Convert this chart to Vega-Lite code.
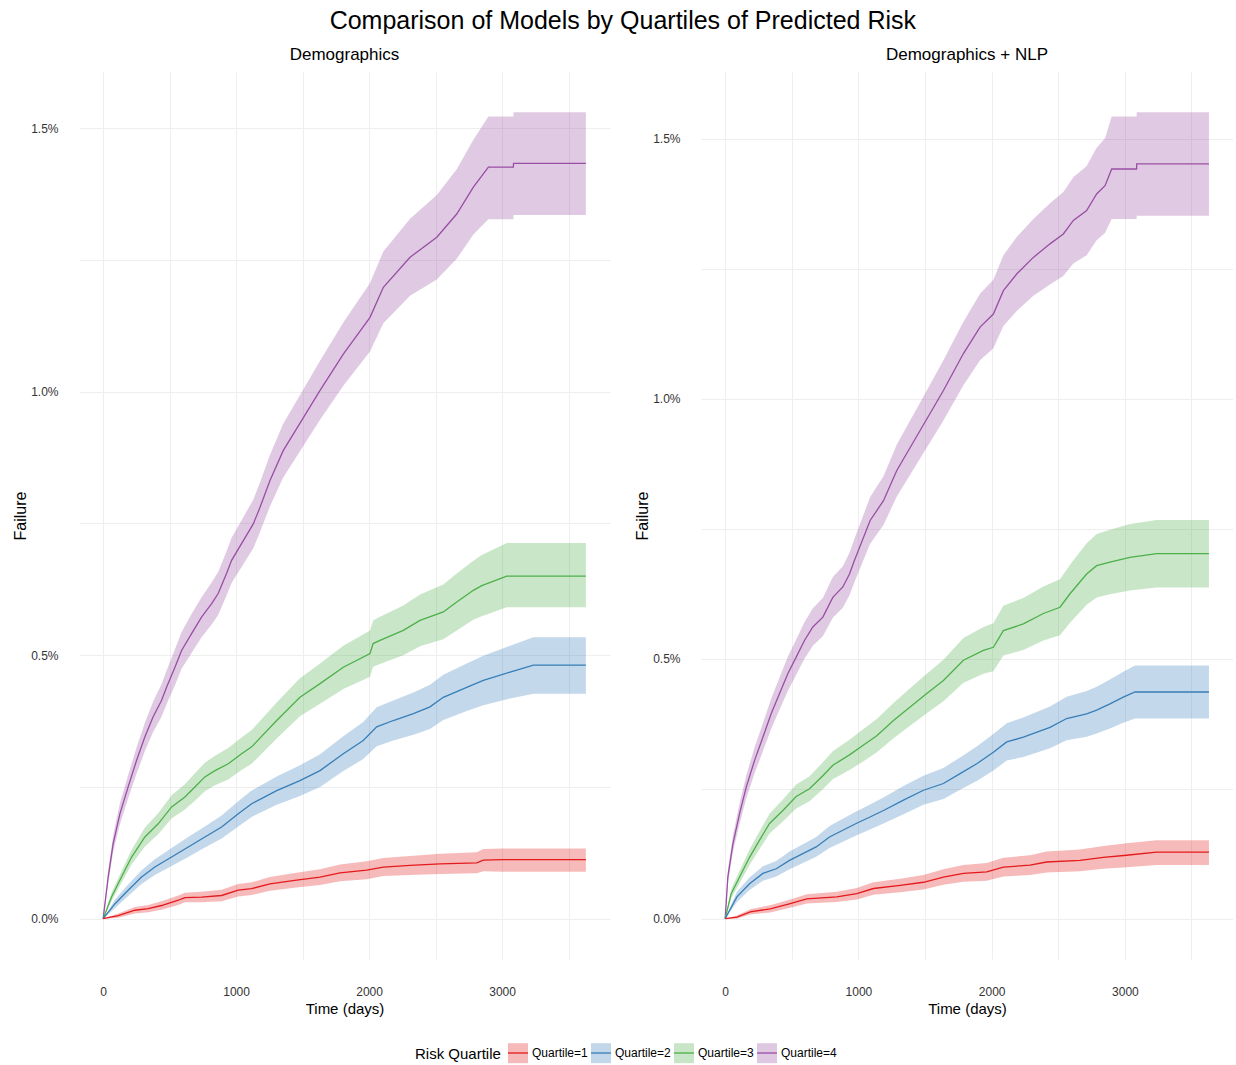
{
  "$schema": "https://vega.github.io/schema/vega-lite/v6.json",
  "background": "white",
  "padding": {"left": 12, "right": 0, "top": 9, "bottom": 5},
  "title": {"text": "Comparison of Models by Quartiles of Predicted Risk", "fontSize": 25, "font": "Liberation Sans", "fontWeight": "normal", "anchor": "middle", "offset": 12, "color": "#000000"},
  "config": {
    "font": "Liberation Sans",
    "view": {"stroke": null},
    "concat": {"spacing": 24},
    "axis": {"grid": true, "gridColor": "#EEEEEE", "gridWidth": 1, "domain": false, "ticks": false, "labelFontSize": 12, "labelColor": "#333333", "titleFontSize": 15, "titleFontWeight": "normal", "titleColor": "#000000", "labelFont": "Liberation Sans", "titleFont": "Liberation Sans"},
    "axisY": {"titleFontSize": 16},
    "title": {"fontSize": 17, "fontWeight": "normal", "color": "#000000", "font": "Liberation Sans"}
  },
  "datasets": {
    "demo": [
      {"quartile": "Quartile=4", "day": 0, "est": 0, "lo": 0, "hi": 0},
      {"quartile": "Quartile=4", "day": 38, "est": 0.079, "lo": 0.067, "hi": 0.091},
      {"quartile": "Quartile=4", "day": 75, "est": 0.142, "lo": 0.126, "hi": 0.158},
      {"quartile": "Quartile=4", "day": 126, "est": 0.199, "lo": 0.179, "hi": 0.219},
      {"quartile": "Quartile=4", "day": 188, "est": 0.25, "lo": 0.228, "hi": 0.272},
      {"quartile": "Quartile=4", "day": 251, "est": 0.3, "lo": 0.275, "hi": 0.325},
      {"quartile": "Quartile=4", "day": 314, "est": 0.345, "lo": 0.318, "hi": 0.372},
      {"quartile": "Quartile=4", "day": 376, "est": 0.383, "lo": 0.354, "hi": 0.412},
      {"quartile": "Quartile=4", "day": 439, "est": 0.414, "lo": 0.383, "hi": 0.445},
      {"quartile": "Quartile=4", "day": 477, "est": 0.439, "lo": 0.407, "hi": 0.471},
      {"quartile": "Quartile=4", "day": 540, "est": 0.477, "lo": 0.443, "hi": 0.511},
      {"quartile": "Quartile=4", "day": 590, "est": 0.509, "lo": 0.474, "hi": 0.544},
      {"quartile": "Quartile=4", "day": 665, "est": 0.541, "lo": 0.504, "hi": 0.578},
      {"quartile": "Quartile=4", "day": 740, "est": 0.572, "lo": 0.534, "hi": 0.61},
      {"quartile": "Quartile=4", "day": 816, "est": 0.598, "lo": 0.558, "hi": 0.638},
      {"quartile": "Quartile=4", "day": 865, "est": 0.617, "lo": 0.576, "hi": 0.658},
      {"quartile": "Quartile=4", "day": 928, "est": 0.655, "lo": 0.613, "hi": 0.697},
      {"quartile": "Quartile=4", "day": 966, "est": 0.68, "lo": 0.637, "hi": 0.723},
      {"quartile": "Quartile=4", "day": 1129, "est": 0.749, "lo": 0.703, "hi": 0.795},
      {"quartile": "Quartile=4", "day": 1179, "est": 0.78, "lo": 0.733, "hi": 0.827},
      {"quartile": "Quartile=4", "day": 1254, "est": 0.831, "lo": 0.782, "hi": 0.88},
      {"quartile": "Quartile=4", "day": 1354, "est": 0.888, "lo": 0.837, "hi": 0.939},
      {"quartile": "Quartile=4", "day": 1630, "est": 1.002, "lo": 0.946, "hi": 1.058},
      {"quartile": "Quartile=4", "day": 1806, "est": 1.071, "lo": 1.011, "hi": 1.131},
      {"quartile": "Quartile=4", "day": 2007, "est": 1.141, "lo": 1.076, "hi": 1.206},
      {"quartile": "Quartile=4", "day": 2107, "est": 1.198, "lo": 1.13, "hi": 1.266},
      {"quartile": "Quartile=4", "day": 2308, "est": 1.255, "lo": 1.182, "hi": 1.328},
      {"quartile": "Quartile=4", "day": 2509, "est": 1.293, "lo": 1.213, "hi": 1.373},
      {"quartile": "Quartile=4", "day": 2659, "est": 1.337, "lo": 1.252, "hi": 1.422},
      {"quartile": "Quartile=4", "day": 2784, "est": 1.388, "lo": 1.298, "hi": 1.478},
      {"quartile": "Quartile=4", "day": 2897, "est": 1.426, "lo": 1.327, "hi": 1.522},
      {"quartile": "Quartile=4", "day": 3085, "est": 1.426, "lo": 1.327, "hi": 1.522},
      {"quartile": "Quartile=4", "day": 3086, "est": 1.433, "lo": 1.335, "hi": 1.53},
      {"quartile": "Quartile=4", "day": 3630, "est": 1.433, "lo": 1.335, "hi": 1.53},

      {"quartile": "Quartile=3", "day": 0, "est": 0, "lo": 0, "hi": 0},
      {"quartile": "Quartile=3", "day": 63, "est": 0.041, "lo": 0.033, "hi": 0.049},
      {"quartile": "Quartile=3", "day": 138, "est": 0.079, "lo": 0.068, "hi": 0.09},
      {"quartile": "Quartile=3", "day": 214, "est": 0.117, "lo": 0.103, "hi": 0.131},
      {"quartile": "Quartile=3", "day": 314, "est": 0.155, "lo": 0.137, "hi": 0.173},
      {"quartile": "Quartile=3", "day": 414, "est": 0.18, "lo": 0.16, "hi": 0.2},
      {"quartile": "Quartile=3", "day": 515, "est": 0.212, "lo": 0.19, "hi": 0.234},
      {"quartile": "Quartile=3", "day": 615, "est": 0.231, "lo": 0.207, "hi": 0.255},
      {"quartile": "Quartile=3", "day": 690, "est": 0.25, "lo": 0.224, "hi": 0.276},
      {"quartile": "Quartile=3", "day": 765, "est": 0.269, "lo": 0.242, "hi": 0.296},
      {"quartile": "Quartile=3", "day": 841, "est": 0.281, "lo": 0.253, "hi": 0.309},
      {"quartile": "Quartile=3", "day": 941, "est": 0.294, "lo": 0.264, "hi": 0.324},
      {"quartile": "Quartile=3", "day": 1041, "est": 0.313, "lo": 0.282, "hi": 0.344},
      {"quartile": "Quartile=3", "day": 1117, "est": 0.326, "lo": 0.294, "hi": 0.358},
      {"quartile": "Quartile=3", "day": 1305, "est": 0.376, "lo": 0.342, "hi": 0.41},
      {"quartile": "Quartile=3", "day": 1480, "est": 0.42, "lo": 0.384, "hi": 0.456},
      {"quartile": "Quartile=3", "day": 1631, "est": 0.446, "lo": 0.408, "hi": 0.484},
      {"quartile": "Quartile=3", "day": 1806, "est": 0.477, "lo": 0.436, "hi": 0.518},
      {"quartile": "Quartile=3", "day": 2007, "est": 0.503, "lo": 0.459, "hi": 0.547},
      {"quartile": "Quartile=3", "day": 2030, "est": 0.522, "lo": 0.478, "hi": 0.566},
      {"quartile": "Quartile=3", "day": 2082, "est": 0.528, "lo": 0.483, "hi": 0.573},
      {"quartile": "Quartile=3", "day": 2257, "est": 0.547, "lo": 0.5, "hi": 0.594},
      {"quartile": "Quartile=3", "day": 2383, "est": 0.566, "lo": 0.517, "hi": 0.615},
      {"quartile": "Quartile=3", "day": 2558, "est": 0.582, "lo": 0.53, "hi": 0.634},
      {"quartile": "Quartile=3", "day": 2659, "est": 0.601, "lo": 0.547, "hi": 0.655},
      {"quartile": "Quartile=3", "day": 2784, "est": 0.623, "lo": 0.567, "hi": 0.679},
      {"quartile": "Quartile=3", "day": 2847, "est": 0.632, "lo": 0.574, "hi": 0.69},
      {"quartile": "Quartile=3", "day": 3035, "est": 0.65, "lo": 0.591, "hi": 0.713},
      {"quartile": "Quartile=3", "day": 3630, "est": 0.65, "lo": 0.591, "hi": 0.713},

      {"quartile": "Quartile=2", "day": 0, "est": 0, "lo": 0, "hi": 0},
      {"quartile": "Quartile=2", "day": 88, "est": 0.028, "lo": 0.02, "hi": 0.036},
      {"quartile": "Quartile=2", "day": 188, "est": 0.054, "lo": 0.043, "hi": 0.065},
      {"quartile": "Quartile=2", "day": 289, "est": 0.079, "lo": 0.066, "hi": 0.092},
      {"quartile": "Quartile=2", "day": 389, "est": 0.098, "lo": 0.083, "hi": 0.113},
      {"quartile": "Quartile=2", "day": 515, "est": 0.117, "lo": 0.1, "hi": 0.134},
      {"quartile": "Quartile=2", "day": 640, "est": 0.136, "lo": 0.117, "hi": 0.155},
      {"quartile": "Quartile=2", "day": 765, "est": 0.155, "lo": 0.135, "hi": 0.175},
      {"quartile": "Quartile=2", "day": 891, "est": 0.174, "lo": 0.152, "hi": 0.196},
      {"quartile": "Quartile=2", "day": 1016, "est": 0.199, "lo": 0.175, "hi": 0.223},
      {"quartile": "Quartile=2", "day": 1117, "est": 0.218, "lo": 0.193, "hi": 0.243},
      {"quartile": "Quartile=2", "day": 1305, "est": 0.243, "lo": 0.216, "hi": 0.27},
      {"quartile": "Quartile=2", "day": 1480, "est": 0.262, "lo": 0.233, "hi": 0.291},
      {"quartile": "Quartile=2", "day": 1631, "est": 0.281, "lo": 0.25, "hi": 0.312},
      {"quartile": "Quartile=2", "day": 1806, "est": 0.313, "lo": 0.28, "hi": 0.346},
      {"quartile": "Quartile=2", "day": 1956, "est": 0.338, "lo": 0.303, "hi": 0.373},
      {"quartile": "Quartile=2", "day": 2057, "est": 0.364, "lo": 0.327, "hi": 0.401},
      {"quartile": "Quartile=2", "day": 2182, "est": 0.376, "lo": 0.338, "hi": 0.414},
      {"quartile": "Quartile=2", "day": 2333, "est": 0.389, "lo": 0.349, "hi": 0.429},
      {"quartile": "Quartile=2", "day": 2458, "est": 0.402, "lo": 0.36, "hi": 0.444},
      {"quartile": "Quartile=2", "day": 2558, "est": 0.42, "lo": 0.377, "hi": 0.463},
      {"quartile": "Quartile=2", "day": 2734, "est": 0.439, "lo": 0.394, "hi": 0.484},
      {"quartile": "Quartile=2", "day": 2859, "est": 0.452, "lo": 0.405, "hi": 0.499},
      {"quartile": "Quartile=2", "day": 3060, "est": 0.468, "lo": 0.418, "hi": 0.518},
      {"quartile": "Quartile=2", "day": 3236, "est": 0.481, "lo": 0.427, "hi": 0.534},
      {"quartile": "Quartile=2", "day": 3630, "est": 0.481, "lo": 0.427, "hi": 0.534},

      {"quartile": "Quartile=1", "day": 0, "est": 0, "lo": 0, "hi": 0},
      {"quartile": "Quartile=1", "day": 113, "est": 0.006, "lo": 0.002, "hi": 0.01},
      {"quartile": "Quartile=1", "day": 239, "est": 0.016, "lo": 0.01, "hi": 0.022},
      {"quartile": "Quartile=1", "day": 339, "est": 0.019, "lo": 0.012, "hi": 0.026},
      {"quartile": "Quartile=1", "day": 439, "est": 0.025, "lo": 0.017, "hi": 0.033},
      {"quartile": "Quartile=1", "day": 565, "est": 0.035, "lo": 0.026, "hi": 0.044},
      {"quartile": "Quartile=1", "day": 615, "est": 0.04, "lo": 0.031, "hi": 0.049},
      {"quartile": "Quartile=1", "day": 740, "est": 0.041, "lo": 0.031, "hi": 0.051},
      {"quartile": "Quartile=1", "day": 891, "est": 0.044, "lo": 0.033, "hi": 0.055},
      {"quartile": "Quartile=1", "day": 1016, "est": 0.054, "lo": 0.042, "hi": 0.066},
      {"quartile": "Quartile=1", "day": 1117, "est": 0.057, "lo": 0.045, "hi": 0.069},
      {"quartile": "Quartile=1", "day": 1254, "est": 0.066, "lo": 0.053, "hi": 0.079},
      {"quartile": "Quartile=1", "day": 1455, "est": 0.073, "lo": 0.059, "hi": 0.087},
      {"quartile": "Quartile=1", "day": 1631, "est": 0.079, "lo": 0.064, "hi": 0.094},
      {"quartile": "Quartile=1", "day": 1781, "est": 0.087, "lo": 0.071, "hi": 0.103},
      {"quartile": "Quartile=1", "day": 1982, "est": 0.092, "lo": 0.075, "hi": 0.109},
      {"quartile": "Quartile=1", "day": 2107, "est": 0.098, "lo": 0.081, "hi": 0.115},
      {"quartile": "Quartile=1", "day": 2308, "est": 0.101, "lo": 0.083, "hi": 0.119},
      {"quartile": "Quartile=1", "day": 2534, "est": 0.104, "lo": 0.085, "hi": 0.123},
      {"quartile": "Quartile=1", "day": 2810, "est": 0.106, "lo": 0.086, "hi": 0.126},
      {"quartile": "Quartile=1", "day": 2859, "est": 0.111, "lo": 0.09, "hi": 0.132},
      {"quartile": "Quartile=1", "day": 3010, "est": 0.112, "lo": 0.089, "hi": 0.133},
      {"quartile": "Quartile=1", "day": 3630, "est": 0.112, "lo": 0.089, "hi": 0.133}
    ],
    "nlp": [
      {"quartile": "Quartile=4", "day": 0, "est": 0, "lo": 0, "hi": 0},
      {"quartile": "Quartile=4", "day": 20, "est": 0.08, "lo": 0.068, "hi": 0.092},
      {"quartile": "Quartile=4", "day": 58, "est": 0.144, "lo": 0.128, "hi": 0.16},
      {"quartile": "Quartile=4", "day": 108, "est": 0.202, "lo": 0.182, "hi": 0.222},
      {"quartile": "Quartile=4", "day": 158, "est": 0.253, "lo": 0.231, "hi": 0.275},
      {"quartile": "Quartile=4", "day": 220, "est": 0.304, "lo": 0.279, "hi": 0.329},
      {"quartile": "Quartile=4", "day": 283, "est": 0.349, "lo": 0.322, "hi": 0.376},
      {"quartile": "Quartile=4", "day": 345, "est": 0.394, "lo": 0.365, "hi": 0.423},
      {"quartile": "Quartile=4", "day": 408, "est": 0.433, "lo": 0.402, "hi": 0.464},
      {"quartile": "Quartile=4", "day": 470, "est": 0.471, "lo": 0.438, "hi": 0.504},
      {"quartile": "Quartile=4", "day": 533, "est": 0.503, "lo": 0.469, "hi": 0.537},
      {"quartile": "Quartile=4", "day": 595, "est": 0.535, "lo": 0.5, "hi": 0.57},
      {"quartile": "Quartile=4", "day": 658, "est": 0.561, "lo": 0.525, "hi": 0.597},
      {"quartile": "Quartile=4", "day": 733, "est": 0.58, "lo": 0.543, "hi": 0.617},
      {"quartile": "Quartile=4", "day": 808, "est": 0.618, "lo": 0.579, "hi": 0.657},
      {"quartile": "Quartile=4", "day": 883, "est": 0.638, "lo": 0.598, "hi": 0.678},
      {"quartile": "Quartile=4", "day": 933, "est": 0.663, "lo": 0.622, "hi": 0.704},
      {"quartile": "Quartile=4", "day": 970, "est": 0.689, "lo": 0.647, "hi": 0.731},
      {"quartile": "Quartile=4", "day": 1088, "est": 0.766, "lo": 0.721, "hi": 0.811},
      {"quartile": "Quartile=4", "day": 1188, "est": 0.804, "lo": 0.757, "hi": 0.851},
      {"quartile": "Quartile=4", "day": 1288, "est": 0.862, "lo": 0.812, "hi": 0.912},
      {"quartile": "Quartile=4", "day": 1463, "est": 0.939, "lo": 0.885, "hi": 0.993},
      {"quartile": "Quartile=4", "day": 1638, "est": 1.016, "lo": 0.958, "hi": 1.074},
      {"quartile": "Quartile=4", "day": 1788, "est": 1.087, "lo": 1.026, "hi": 1.148},
      {"quartile": "Quartile=4", "day": 1913, "est": 1.138, "lo": 1.074, "hi": 1.202},
      {"quartile": "Quartile=4", "day": 2013, "est": 1.163, "lo": 1.097, "hi": 1.229},
      {"quartile": "Quartile=4", "day": 2088, "est": 1.208, "lo": 1.14, "hi": 1.276},
      {"quartile": "Quartile=4", "day": 2188, "est": 1.24, "lo": 1.169, "hi": 1.311},
      {"quartile": "Quartile=4", "day": 2313, "est": 1.272, "lo": 1.198, "hi": 1.346},
      {"quartile": "Quartile=4", "day": 2438, "est": 1.298, "lo": 1.22, "hi": 1.376},
      {"quartile": "Quartile=4", "day": 2538, "est": 1.317, "lo": 1.236, "hi": 1.398},
      {"quartile": "Quartile=4", "day": 2613, "est": 1.343, "lo": 1.26, "hi": 1.426},
      {"quartile": "Quartile=4", "day": 2713, "est": 1.362, "lo": 1.276, "hi": 1.448},
      {"quartile": "Quartile=4", "day": 2788, "est": 1.394, "lo": 1.305, "hi": 1.483},
      {"quartile": "Quartile=4", "day": 2851, "est": 1.41, "lo": 1.319, "hi": 1.501},
      {"quartile": "Quartile=4", "day": 2901, "est": 1.442, "lo": 1.346, "hi": 1.543},
      {"quartile": "Quartile=4", "day": 3088, "est": 1.442, "lo": 1.346, "hi": 1.543},
      {"quartile": "Quartile=4", "day": 3089, "est": 1.452, "lo": 1.352, "hi": 1.551},
      {"quartile": "Quartile=4", "day": 3631, "est": 1.452, "lo": 1.352, "hi": 1.551},

      {"quartile": "Quartile=3", "day": 0, "est": 0, "lo": 0, "hi": 0},
      {"quartile": "Quartile=3", "day": 45, "est": 0.048, "lo": 0.039, "hi": 0.057},
      {"quartile": "Quartile=3", "day": 108, "est": 0.08, "lo": 0.068, "hi": 0.092},
      {"quartile": "Quartile=3", "day": 183, "est": 0.118, "lo": 0.103, "hi": 0.133},
      {"quartile": "Quartile=3", "day": 258, "est": 0.151, "lo": 0.134, "hi": 0.168},
      {"quartile": "Quartile=3", "day": 333, "est": 0.183, "lo": 0.164, "hi": 0.202},
      {"quartile": "Quartile=3", "day": 433, "est": 0.208, "lo": 0.187, "hi": 0.229},
      {"quartile": "Quartile=3", "day": 533, "est": 0.235, "lo": 0.212, "hi": 0.258},
      {"quartile": "Quartile=3", "day": 633, "est": 0.25, "lo": 0.226, "hi": 0.274},
      {"quartile": "Quartile=3", "day": 733, "est": 0.275, "lo": 0.249, "hi": 0.301},
      {"quartile": "Quartile=3", "day": 808, "est": 0.295, "lo": 0.268, "hi": 0.322},
      {"quartile": "Quartile=3", "day": 933, "est": 0.315, "lo": 0.286, "hi": 0.344},
      {"quartile": "Quartile=3", "day": 1033, "est": 0.333, "lo": 0.302, "hi": 0.364},
      {"quartile": "Quartile=3", "day": 1138, "est": 0.352, "lo": 0.32, "hi": 0.384},
      {"quartile": "Quartile=3", "day": 1263, "est": 0.381, "lo": 0.347, "hi": 0.415},
      {"quartile": "Quartile=3", "day": 1388, "est": 0.407, "lo": 0.371, "hi": 0.443},
      {"quartile": "Quartile=3", "day": 1513, "est": 0.433, "lo": 0.395, "hi": 0.471},
      {"quartile": "Quartile=3", "day": 1638, "est": 0.458, "lo": 0.418, "hi": 0.498},
      {"quartile": "Quartile=3", "day": 1788, "est": 0.497, "lo": 0.454, "hi": 0.54},
      {"quartile": "Quartile=3", "day": 1938, "est": 0.516, "lo": 0.471, "hi": 0.561},
      {"quartile": "Quartile=3", "day": 2013, "est": 0.522, "lo": 0.476, "hi": 0.568},
      {"quartile": "Quartile=3", "day": 2088, "est": 0.554, "lo": 0.506, "hi": 0.602},
      {"quartile": "Quartile=3", "day": 2238, "est": 0.567, "lo": 0.517, "hi": 0.617},
      {"quartile": "Quartile=3", "day": 2388, "est": 0.587, "lo": 0.535, "hi": 0.639},
      {"quartile": "Quartile=3", "day": 2513, "est": 0.599, "lo": 0.545, "hi": 0.653},
      {"quartile": "Quartile=3", "day": 2588, "est": 0.625, "lo": 0.569, "hi": 0.681},
      {"quartile": "Quartile=3", "day": 2713, "est": 0.663, "lo": 0.604, "hi": 0.722},
      {"quartile": "Quartile=3", "day": 2788, "est": 0.679, "lo": 0.618, "hi": 0.74},
      {"quartile": "Quartile=3", "day": 2888, "est": 0.686, "lo": 0.624, "hi": 0.748},
      {"quartile": "Quartile=3", "day": 3038, "est": 0.695, "lo": 0.631, "hi": 0.759},
      {"quartile": "Quartile=3", "day": 3238, "est": 0.702, "lo": 0.637, "hi": 0.767},
      {"quartile": "Quartile=3", "day": 3631, "est": 0.702, "lo": 0.637, "hi": 0.767},

      {"quartile": "Quartile=2", "day": 0, "est": 0, "lo": 0, "hi": 0},
      {"quartile": "Quartile=2", "day": 88, "est": 0.042, "lo": 0.032, "hi": 0.052},
      {"quartile": "Quartile=2", "day": 183, "est": 0.067, "lo": 0.055, "hi": 0.079},
      {"quartile": "Quartile=2", "day": 283, "est": 0.087, "lo": 0.073, "hi": 0.101},
      {"quartile": "Quartile=2", "day": 383, "est": 0.096, "lo": 0.081, "hi": 0.111},
      {"quartile": "Quartile=2", "day": 483, "est": 0.112, "lo": 0.095, "hi": 0.129},
      {"quartile": "Quartile=2", "day": 583, "est": 0.125, "lo": 0.107, "hi": 0.143},
      {"quartile": "Quartile=2", "day": 683, "est": 0.138, "lo": 0.119, "hi": 0.157},
      {"quartile": "Quartile=2", "day": 783, "est": 0.157, "lo": 0.136, "hi": 0.178},
      {"quartile": "Quartile=2", "day": 883, "est": 0.17, "lo": 0.148, "hi": 0.192},
      {"quartile": "Quartile=2", "day": 983, "est": 0.183, "lo": 0.16, "hi": 0.206},
      {"quartile": "Quartile=2", "day": 1083, "est": 0.195, "lo": 0.171, "hi": 0.219},
      {"quartile": "Quartile=2", "day": 1188, "est": 0.208, "lo": 0.183, "hi": 0.233},
      {"quartile": "Quartile=2", "day": 1338, "est": 0.228, "lo": 0.201, "hi": 0.255},
      {"quartile": "Quartile=2", "day": 1488, "est": 0.247, "lo": 0.219, "hi": 0.275},
      {"quartile": "Quartile=2", "day": 1638, "est": 0.26, "lo": 0.23, "hi": 0.29},
      {"quartile": "Quartile=2", "day": 1763, "est": 0.279, "lo": 0.248, "hi": 0.31},
      {"quartile": "Quartile=2", "day": 1888, "est": 0.298, "lo": 0.265, "hi": 0.331},
      {"quartile": "Quartile=2", "day": 2013, "est": 0.32, "lo": 0.285, "hi": 0.355},
      {"quartile": "Quartile=2", "day": 2113, "est": 0.34, "lo": 0.304, "hi": 0.376},
      {"quartile": "Quartile=2", "day": 2238, "est": 0.349, "lo": 0.311, "hi": 0.387},
      {"quartile": "Quartile=2", "day": 2438, "est": 0.368, "lo": 0.328, "hi": 0.408},
      {"quartile": "Quartile=2", "day": 2563, "est": 0.385, "lo": 0.343, "hi": 0.427},
      {"quartile": "Quartile=2", "day": 2713, "est": 0.394, "lo": 0.35, "hi": 0.438},
      {"quartile": "Quartile=2", "day": 2788, "est": 0.401, "lo": 0.356, "hi": 0.446},
      {"quartile": "Quartile=2", "day": 2888, "est": 0.413, "lo": 0.366, "hi": 0.46},
      {"quartile": "Quartile=2", "day": 2988, "est": 0.426, "lo": 0.377, "hi": 0.475},
      {"quartile": "Quartile=2", "day": 3076, "est": 0.436, "lo": 0.385, "hi": 0.487},
      {"quartile": "Quartile=2", "day": 3631, "est": 0.436, "lo": 0.385, "hi": 0.487},

      {"quartile": "Quartile=1", "day": 0, "est": 0, "lo": 0, "hi": 0},
      {"quartile": "Quartile=1", "day": 88, "est": 0.003, "lo": 0, "hi": 0.006},
      {"quartile": "Quartile=1", "day": 188, "est": 0.013, "lo": 0.008, "hi": 0.018},
      {"quartile": "Quartile=1", "day": 338, "est": 0.019, "lo": 0.012, "hi": 0.026},
      {"quartile": "Quartile=1", "day": 488, "est": 0.029, "lo": 0.021, "hi": 0.037},
      {"quartile": "Quartile=1", "day": 613, "est": 0.038, "lo": 0.029, "hi": 0.047},
      {"quartile": "Quartile=1", "day": 838, "est": 0.042, "lo": 0.032, "hi": 0.052},
      {"quartile": "Quartile=1", "day": 988, "est": 0.048, "lo": 0.037, "hi": 0.059},
      {"quartile": "Quartile=1", "day": 1113, "est": 0.058, "lo": 0.046, "hi": 0.07},
      {"quartile": "Quartile=1", "day": 1313, "est": 0.064, "lo": 0.051, "hi": 0.077},
      {"quartile": "Quartile=1", "day": 1488, "est": 0.07, "lo": 0.056, "hi": 0.084},
      {"quartile": "Quartile=1", "day": 1638, "est": 0.08, "lo": 0.065, "hi": 0.095},
      {"quartile": "Quartile=1", "day": 1788, "est": 0.087, "lo": 0.071, "hi": 0.103},
      {"quartile": "Quartile=1", "day": 1963, "est": 0.09, "lo": 0.073, "hi": 0.107},
      {"quartile": "Quartile=1", "day": 2088, "est": 0.099, "lo": 0.081, "hi": 0.117},
      {"quartile": "Quartile=1", "day": 2288, "est": 0.103, "lo": 0.084, "hi": 0.122},
      {"quartile": "Quartile=1", "day": 2413, "est": 0.109, "lo": 0.089, "hi": 0.129},
      {"quartile": "Quartile=1", "day": 2663, "est": 0.112, "lo": 0.091, "hi": 0.133},
      {"quartile": "Quartile=1", "day": 2838, "est": 0.118, "lo": 0.096, "hi": 0.14},
      {"quartile": "Quartile=1", "day": 3013, "est": 0.122, "lo": 0.099, "hi": 0.145},
      {"quartile": "Quartile=1", "day": 3238, "est": 0.128, "lo": 0.103, "hi": 0.151},
      {"quartile": "Quartile=1", "day": 3631, "est": 0.128, "lo": 0.103, "hi": 0.151}
    ]
  },
  "hconcat": [
    {
      "title": {"text": "Demographics", "fontSize": 17, "fontWeight": "normal", "offset": 8},
      "width": 531,
      "height": 887,
      "data": {"name": "demo"},
      "layer": [
        {
          "mark": {"type": "area", "opacity": 0.3},
          "encoding": {
            "x": {"field": "day", "type": "quantitative", "scale": {"domain": [-181.5, 3811.5], "nice": false, "zero": false}, "axis": {"title": "Time (days)", "values": [0, 500, 1000, 1500, 2000, 2500, 3000, 3500], "labelExpr": "datum.value % 1000 == 0 ? format(datum.value, 'd') : ''", "labelPadding": 27, "titlePadding": 4}},
            "y": {"field": "lo", "type": "quantitative", "scale": {"domain": [-0.0765, 1.6065], "nice": false, "zero": false}, "axis": {"title": "Failure", "values": [0, 0.25, 0.5, 0.75, 1, 1.25, 1.5], "labelExpr": "datum.value % 0.5 == 0 ? format(datum.value, '.1f') + '%' : ''", "labelPadding": 21, "titlePadding": 2}},
            "y2": {"field": "hi"},
            "fill": {"field": "quartile", "type": "nominal", "scale": {"domain": ["Quartile=1", "Quartile=2", "Quartile=3", "Quartile=4"], "range": ["#E41A1C", "#377EB8", "#4DAF4A", "#984EA3"]}, "legend": {"orient": "none", "legendX": 336, "legendY": 970, "direction": "horizontal", "title": "Risk Quartile", "titleOrient": "left", "titleFontSize": 15, "titleFontWeight": "normal", "titleColor": "#000000", "labelFontSize": 12, "labelColor": "#000000", "symbolType": "square", "symbolSize": 400, "symbolStrokeWidth": 1.3, "symbolStrokeColor": "transparent", "symbolOpacity": 0.3, "columnPadding": 0, "labelOffset": 3, "titlePadding": 6}}
          }
        },
        {
          "mark": {"type": "line", "strokeWidth": 1.3},
          "encoding": {
            "x": {"field": "day", "type": "quantitative"},
            "y": {"field": "est", "type": "quantitative", "title": "Failure"},
            "stroke": {"field": "quartile", "type": "nominal", "sort": "ascending", "scale": {"range": ["#E41A1C", "#377EB8", "#4DAF4A", "#984EA3"]}, "legend": {"orient": "none", "legendX": 428, "legendY": 970, "direction": "horizontal", "title": null, "labelFontSize": 12, "labelColor": "transparent", "symbolType": "stroke", "symbolSize": 400, "symbolStrokeWidth": 1.3, "columnPadding": 0, "labelOffset": 3}}
          }
        }
      ]
    },
    {
      "title": {"text": "Demographics + NLP", "fontSize": 17, "fontWeight": "normal", "offset": 8},
      "width": 532,
      "height": 887,
      "data": {"name": "nlp"},
      "layer": [
        {
          "mark": {"type": "area", "opacity": 0.3},
          "encoding": {
            "x": {"field": "day", "type": "quantitative", "scale": {"domain": [-181.5, 3811.5], "nice": false, "zero": false}, "axis": {"title": "Time (days)", "values": [0, 500, 1000, 1500, 2000, 2500, 3000, 3500], "labelExpr": "datum.value % 1000 == 0 ? format(datum.value, 'd') : ''", "labelPadding": 27, "titlePadding": 4}},
            "y": {"field": "lo", "type": "quantitative", "scale": {"domain": [-0.0776, 1.6286], "nice": false, "zero": false}, "axis": {"title": "Failure", "values": [0, 0.25, 0.5, 0.75, 1, 1.25, 1.5], "labelExpr": "datum.value % 0.5 == 0 ? format(datum.value, '.1f') + '%' : ''", "labelPadding": 21, "titlePadding": 2}},
            "y2": {"field": "hi"},
            "fill": {"field": "quartile", "type": "nominal"}
          }
        },
        {
          "mark": {"type": "line", "strokeWidth": 1.3},
          "encoding": {
            "x": {"field": "day", "type": "quantitative"},
            "y": {"field": "est", "type": "quantitative", "title": "Failure"},
            "stroke": {"field": "quartile", "type": "nominal", "sort": "ascending"}
          }
        }
      ]
    }
  ],
  "resolve": {"scale": {"x": "independent", "y": "independent", "fill": "shared", "stroke": "shared"}}
}
